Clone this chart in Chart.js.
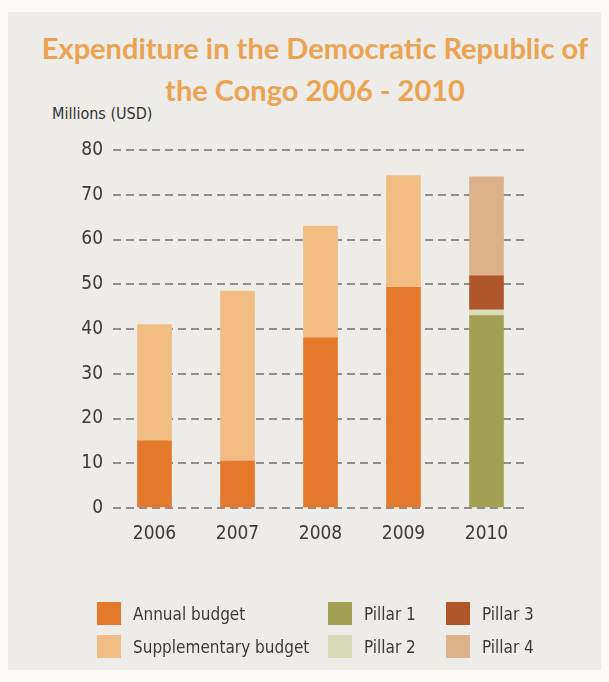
<!DOCTYPE html>
<html>
<head>
<meta charset="utf-8">
<script src="https://cdn.jsdelivr.net/npm/chart.js"></script>
<style>
  body { margin: 0; background: #fbfaf8; }
  #page { position: relative; width: 609px; height: 682px; overflow: hidden; }
  #paper { position: absolute; left: 8px; top: 12px; right: 8px; bottom: 12px; background: #eeece8; }
  #title { position: absolute; left: 0; top: 27px; width: 630px; text-align: center;
    font: bold 29px Lato, sans-serif; line-height: 42px; color: #eba352; }
  #unit { position: absolute; left: 52px; top: 104px; font: 16px 'Liberation Sans Narrow', 'DejaVu Sans Condensed', sans-serif; color: #333; }
  canvas { position: absolute; left: 0; top: 0; }
  .lg { position: absolute; font: 17px 'Liberation Sans Narrow', 'DejaVu Sans Condensed', sans-serif; color: #3a3a3a; line-height: 24px; }
  .lg span { position: absolute; left: 0; top: 0; width: 24px; height: 23px; }
  .lg b { font-weight: normal; position: absolute; left: 36px; top: 0; white-space: nowrap; }
</style>
</head>
<body>
<div id="page">
  <div id="paper"></div>
  <div id="title">Expenditure in the Democratic Republic of<br>the Congo 2006 - 2010</div>
  <div id="unit">Millions (USD)</div>
  <canvas id="chart" width="609" height="682"></canvas>
  <div id="legend"></div>
</div>
<script>
// data
var years = ['2006', '2007', '2008', '2009', '2010'];
var annualBudget = [15, 10.5, 38, 49.3, null];
var supplementaryBudget = [26, 38, 25, 25, null];
var pillar1 = [null, null, null, null, 43];
var pillar2 = [null, null, null, null, 1.3];
var pillar3 = [null, null, null, null, 7.6];
var pillar4 = [null, null, null, null, 22.1];
var yTicks = [0, 10, 20, 30, 40, 50, 60, 70, 80];

var narrow = "'Liberation Sans Narrow', 'DejaVu Sans Condensed', sans-serif";

var chart = new Chart(document.getElementById('chart'), {
    type: 'bar',
    data: {
        labels: years,
        datasets: [
            { label: 'Annual budget', data: annualBudget, backgroundColor: '#e5792b' },
            { label: 'Supplementary budget', data: supplementaryBudget, backgroundColor: '#f1bd83' },
            { label: 'Pillar 1', data: pillar1, backgroundColor: '#a4a053' },
            { label: 'Pillar 2', data: pillar2, backgroundColor: '#d7dbb9' },
            { label: 'Pillar 3', data: pillar3, backgroundColor: '#b0562b' },
            { label: 'Pillar 4', data: pillar4, backgroundColor: '#ddb189' }
        ]
    },
    options: {
        responsive: false,
        animation: false,
        devicePixelRatio: 1,
        datasets: { bar: { barThickness: 34 } },
        layout: { padding: { top: 150, bottom: 134, left: 0, right: 81 } },
        plugins: { legend: { display: false }, title: { display: false }, tooltip: { enabled: false } },
        scales: {
            x: {
                stacked: true,
                grid: { display: false },
                border: { display: false },
                ticks: { font: { family: narrow, size: 19 }, color: '#3a3a3a', padding: 7 },
                afterFit: function(s) { s.height = 40; }
            },
            y: {
                stacked: true,
                min: 0,
                max: 80,
                afterBuildTicks: function(s) { s.ticks = yTicks.map(function(v) { return { value: v }; }); },
                ticks: { font: { family: narrow, size: 19 }, color: '#3a3a3a', padding: 10 },
                grid: { color: '#8e8e8e', lineWidth: 2, drawTicks: false },
                border: { display: false, dash: [8, 5] },
                afterFit: function(s) { s.width = 113; }
            }
        }
    }
});

// legend in three columns, two rows
var legendPos = [
    [97, 602], [97, 635], [328, 602], [328, 635], [446, 602], [446, 635]
];
var legend = document.getElementById('legend');
chart.data.datasets.forEach(function(ds, i) {
    var item = document.createElement('div');
    item.className = 'lg';
    item.style.left = legendPos[i][0] + 'px';
    item.style.top = legendPos[i][1] + 'px';
    item.innerHTML = '<span style="background:' + ds.backgroundColor + '"></span><b>' + ds.label + '</b>';
    legend.appendChild(item);
});
</script>
</body>
</html>
